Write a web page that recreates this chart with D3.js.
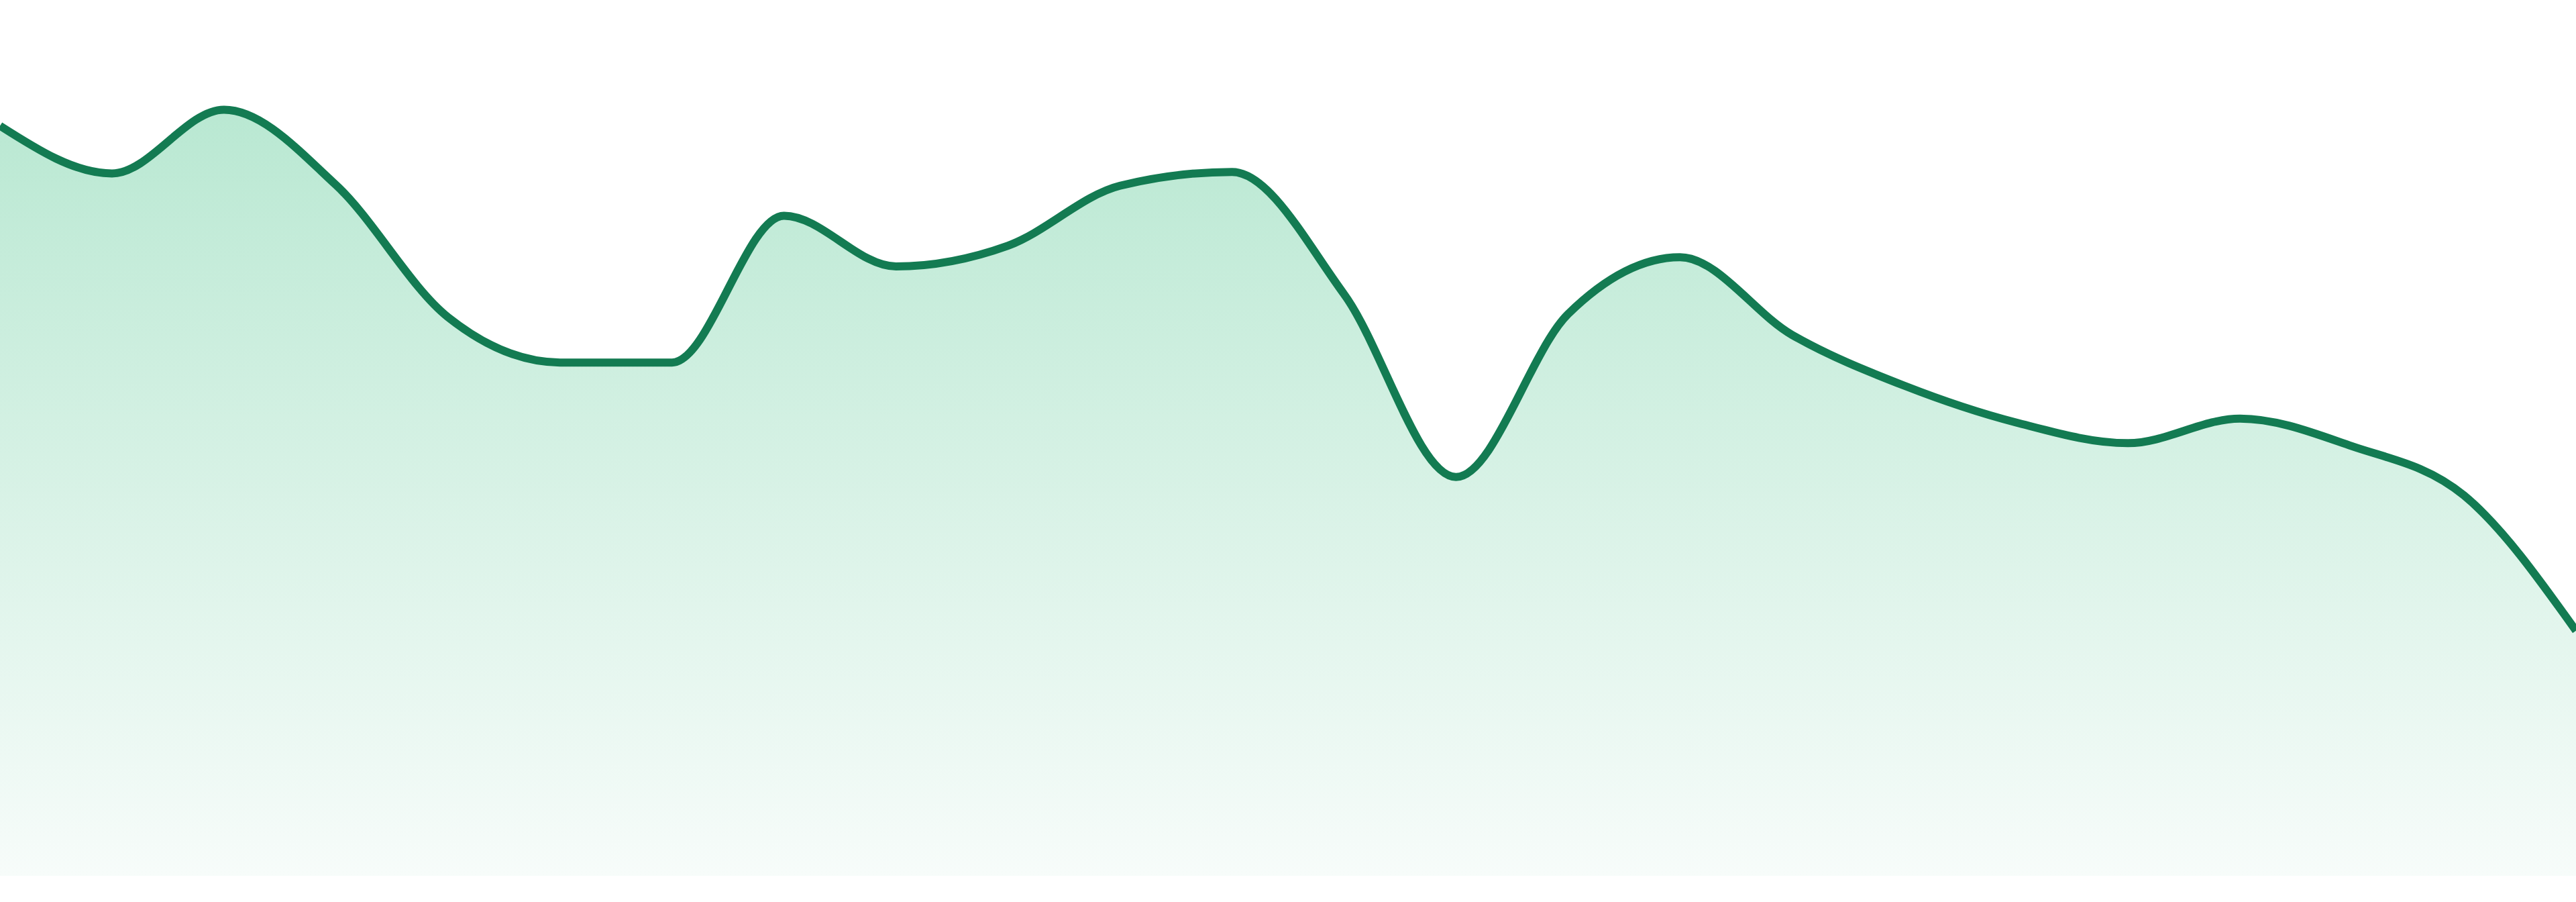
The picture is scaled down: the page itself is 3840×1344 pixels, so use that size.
<!DOCTYPE html>
<html>
<head>
<meta charset="utf-8">
<script src="https://cdn.jsdelivr.net/npm/d3@7"></script>
<style>
  html, body { margin: 0; padding: 0; background: #ffffff; overflow: hidden; width: 100%; height: 100%; }
  svg { display: block; width: 100vw; height: 100vh; }
</style>
</head>
<body>
<svg id="chart" viewBox="0 0 3840 1344" preserveAspectRatio="none"></svg>
<script>
const categories = ["1","2","3","4","5","6","7","8","9","10","11","12","13","14","15","16","17","18","19","20","21","22","23","24"];
const values = [97.6, 91.4, 99.7, 89.9, 72.7, 66.8, 66.8, 85.9, 79.3, 82.0, 89.8, 91.6, 75.7, 51.9, 73.1, 80.5, 70.4, 63.8, 59.0, 56.3, 59.5, 55.9, 49.5, 31.9];
const yDomain = [0, 100];

const W = 3840, H = 1344;
const baseY = 1305, topY = 160;
const svg = d3.select("#chart");
svg.append("rect").attr("width", W).attr("height", H).attr("fill", "#ffffff");

const x = d3.scalePoint().domain(categories).range([0, W]);
const y = d3.scaleLinear().domain(yDomain).range([baseY, topY]);

const data = categories.map((c, i) => ({ c, v: values[i] }));

const defs = svg.append("defs");
const grad = defs.append("linearGradient")
  .attr("id", "fillGrad")
  .attr("gradientUnits", "userSpaceOnUse")
  .attr("x1", 0).attr("x2", 0)
  .attr("y1", y(d3.max(values))).attr("y2", baseY);
grad.append("stop").attr("offset", "0%").attr("stop-color", "#b9e8d2");
grad.append("stop").attr("offset", "100%").attr("stop-color", "#f7fcfa");

const area = d3.area()
  .x(d => x(d.c))
  .y0(y(0))
  .y1(d => y(d.v))
  .curve(d3.curveMonotoneX);

const line = d3.line()
  .x(d => x(d.c))
  .y(d => y(d.v))
  .curve(d3.curveMonotoneX);

svg.append("path").datum(data).attr("d", area).attr("fill", "url(#fillGrad)");
svg.append("path").datum(data).attr("d", line)
  .attr("fill", "none")
  .attr("stroke", "#137b52")
  .attr("stroke-width", 12)
  .attr("stroke-linejoin", "round");
</script>
</body>
</html>
